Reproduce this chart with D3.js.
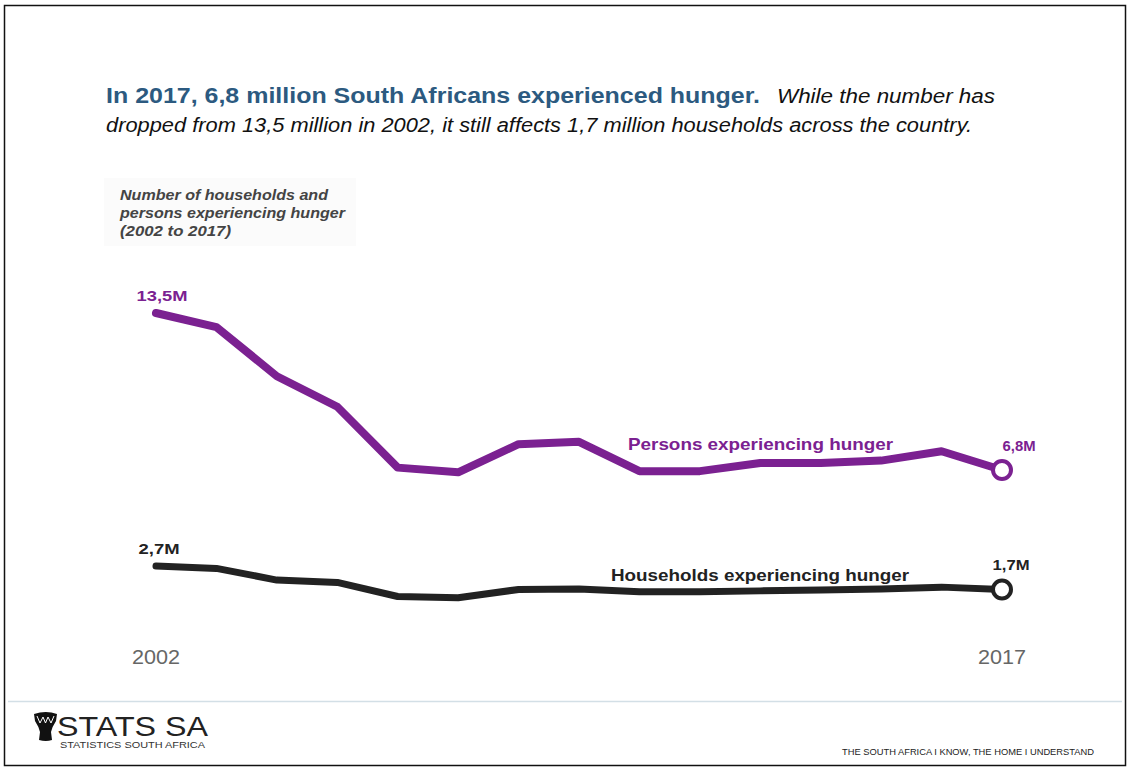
<!DOCTYPE html>
<html>
<head>
<meta charset="utf-8">
<script src="https://cdn.jsdelivr.net/npm/d3@7"></script>
<style>
  html, body { margin: 0; padding: 0; background: #fff; }
  svg { display: block; font-family: "Liberation Sans", Arial, sans-serif; }
</style>
</head>
<body>
<div id="chart"></div>
<script>
// ---- data ----
const pointIndex = ["p0","p1","p2","p3","p4","p5","p6","p7","p8","p9","p10","p11","p12","p13","p14"];
const tickLabels = ["2002","2017"];
const personsValues    = [13.5, 12.9, 10.8, 9.5, 6.9, 6.7, 7.9, 8.0, 6.75, 6.75, 7.1, 7.1, 7.2, 7.6, 6.8];
const householdsValues = [2.7, 2.6, 2.1, 2.0, 1.4, 1.35, 1.7, 1.72, 1.6, 1.6, 1.64, 1.68, 1.72, 1.8, 1.7];
const seriesNames = ["Persons experiencing hunger", "Households experiencing hunger"];
const startLabels = ["13,5M", "2,7M"];
const endLabels = ["6,8M", "1,7M"];

const W = 1130, H = 771;
const svg = d3.select("#chart").append("svg").attr("width", W).attr("height", H);

// helper: text stretched to a given width (reference is horizontally stretched)
function txt(xp, yp, str, size, len, opts = {}) {
  const t = svg.append("text").attr("x", xp).attr("y", yp).attr("font-size", size)
    .attr("fill", opts.fill || "#111").text(str);
  if (opts.weight) t.attr("font-weight", opts.weight);
  if (opts.style) t.attr("font-style", opts.style);
  if (opts.anchor) t.attr("text-anchor", opts.anchor);
  if (len) t.attr("textLength", len).attr("lengthAdjust", "spacingAndGlyphs");
  return t;
}

// frame
svg.append("rect").attr("x", 4.5).attr("y", 5.5).attr("width", W - 9).attr("height", H - 11)
  .attr("fill", "#fff").attr("stroke", "#111").attr("stroke-width", 1.5);

// title
txt(106, 103, "In 2017, 6,8 million South Africans experienced hunger.", 22, 654, { weight: "bold", fill: "#2c5a80" });
txt(777, 103, "While the number has", 19.5, 218, { style: "italic" });
txt(106, 132, "dropped from 13,5 million in 2002, it still affects 1,7 million households across the country.", 19.5, 866, { style: "italic" });

// subtitle box
svg.append("rect").attr("x", 104).attr("y", 178).attr("width", 252).attr("height", 68).attr("fill", "#fbfbfb");
const sub = ["Number of households and", "persons experiencing hunger", "(2002 to 2017)"];
const subLen = [208, 225, 111];
sub.forEach((d, i) => txt(120, 200 + i * 18, d, 14.5, subLen[i], { weight: "bold", style: "italic", fill: "#444" }));

// scales
const x = d3.scalePoint().domain(pointIndex).range([156, 1002]);
const y = d3.scaleLinear().domain([0, 13.5]).range([629.3, 313]);

const line = d3.line().x((d, i) => x(pointIndex[i])).y(d => y(d));

const series = [
  { values: personsValues, color: "#7b2191", width: 8, startLen: 51, startDx: 6, endDx: 17, endLen: 33 },
  { values: householdsValues, color: "#222", width: 7, startLen: 41, startDx: 3, endDx: 9, endLen: 37 }
];

series.forEach((s, k) => {
  svg.append("path").datum(s.values).attr("d", line)
    .attr("fill", "none").attr("stroke", s.color).attr("stroke-width", s.width)
    .attr("stroke-linejoin", "round").attr("stroke-linecap", "round");
  const last = s.values.length - 1;
  svg.append("circle").attr("cx", x(pointIndex[last])).attr("cy", y(s.values[last])).attr("r", 9)
    .attr("fill", "#fff").attr("stroke", s.color).attr("stroke-width", 4);
  txt(x(pointIndex[0]) + s.startDx, y(s.values[0]) - 12, startLabels[k], 14, s.startLen,
    { anchor: "middle", weight: "bold", fill: s.color });
  txt(x(pointIndex[last]) + s.endDx, y(s.values[last]) - 19, endLabels[k], 14, s.endLen,
    { anchor: "middle", weight: "bold", fill: s.color });
});

// series name labels
txt(628, 450, seriesNames[0], 17, 265, { weight: "bold", fill: "#7b2191" });
txt(611, 581, seriesNames[1], 17, 298, { weight: "bold", fill: "#222" });

// x axis year labels (first and last)
const tickPos = [pointIndex[0], pointIndex[pointIndex.length - 1]];
tickPos.forEach((d, i) => txt(x(d), 664, tickLabels[i], 20, 48, { anchor: "middle", fill: "#666" }));

// footer
svg.append("line").attr("x1", 8).attr("x2", W - 8).attr("y1", 701.5).attr("y2", 701.5)
  .attr("stroke", "#d3dfe6").attr("stroke-width", 1.5);

// logo drum
const logo = svg.append("g").attr("transform", "translate(34,712)");
logo.append("path")
  .attr("d", "M0,2 Q12,-2 23,2 L22,9 Q18,15 17,20 L18,28 Q12,30 5,28 L6,20 Q5,15 1,9 Z")
  .attr("fill", "#111");
logo.append("path").attr("d", "M3,4 L6,11 L9,5 L11.5,11 L14,5 L17,11 L20,4")
  .attr("fill", "none").attr("stroke", "#fff").attr("stroke-width", 1);
txt(57, 736, "STATS SA", 27, 151, { fill: "#222" });
txt(60, 748, "STATISTICS SOUTH AFRICA", 9, 145, { fill: "#333" });
txt(842, 755, "THE SOUTH AFRICA I KNOW, THE HOME I UNDERSTAND", 8.5, 252, { fill: "#222" });
</script>
</body>
</html>
